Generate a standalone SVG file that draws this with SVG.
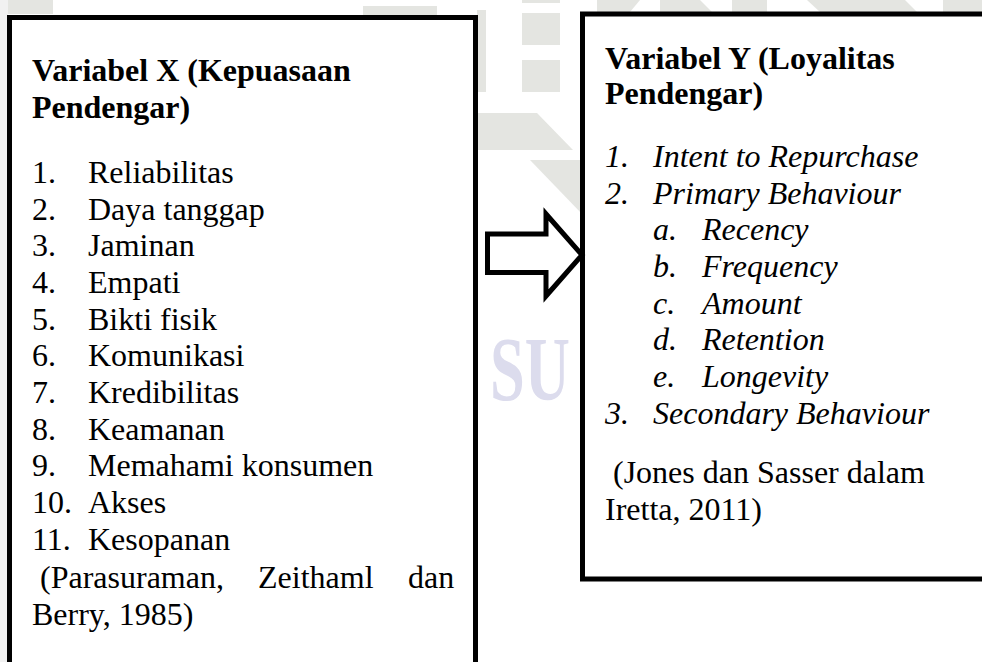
<svg xmlns="http://www.w3.org/2000/svg" width="982" height="662" viewBox="0 0 982 662">
<style>
.box{fill:#ffffff;stroke:#000000;stroke-width:5}
.t{font-family:"Liberation Serif","Times New Roman",serif;font-size:32px;fill:#000000}
.b{font-weight:bold}
.i{font-style:italic}
.wm{fill:#e4e5e1}
</style>
<rect x="0" y="0" width="982" height="662" fill="#ffffff"/>
<g id="watermark">
<rect x="0" y="0" width="8" height="662" fill="#f1f1f1"/>
<rect class="wm" x="8" y="0" width="45" height="14"/>
<rect class="wm" x="363" y="6" width="74" height="10"/>
<rect class="wm" x="477" y="10" width="9" height="82"/>
<rect class="wm" x="522" y="0" width="38" height="3"/>
<rect class="wm" x="522" y="13" width="38" height="32"/>
<rect class="wm" x="522" y="60" width="38" height="32"/>
<polygon class="wm" points="478,113 537,113 573,150 478,150"/>
<polygon class="wm" points="530,160 583,160 583,215"/>
<polygon class="wm" points="597,0 640,0 630,12 597,12"/>
<polygon class="wm" points="660,0 700,0 712,12 660,12"/>
<rect class="wm" x="732" y="0" width="35" height="12"/>
<polygon class="wm" points="807,0 905,0 917,12 820,12"/>
<rect class="wm" x="943" y="0" width="39" height="12"/>
<text transform="translate(490,400) scale(0.68,1)" style="font-family:'Liberation Serif',serif;font-size:92px;font-weight:bold;fill:#dcdced">SU</text>
</g>
<g id="node-x">
<rect class="box" x="9.5" y="17.5" width="466" height="700"/>
<text class="t b" x="32" y="81">Variabel X (Kepuasaan</text>
<text class="t b" x="32" y="118">Pendengar)</text>
<text class="t" x="32" y="183">1.</text><text class="t" x="88" y="183">Reliabilitas</text>
<text class="t" x="32" y="219.7">2.</text><text class="t" x="88" y="219.7">Daya tanggap</text>
<text class="t" x="32" y="256.3">3.</text><text class="t" x="88" y="256.3">Jaminan</text>
<text class="t" x="32" y="293">4.</text><text class="t" x="88" y="293">Empati</text>
<text class="t" x="32" y="329.7">5.</text><text class="t" x="88" y="329.7">Bikti fisik</text>
<text class="t" x="32" y="366.3">6.</text><text class="t" x="88" y="366.3">Komunikasi</text>
<text class="t" x="32" y="403">7.</text><text class="t" x="88" y="403">Kredibilitas</text>
<text class="t" x="32" y="439.7">8.</text><text class="t" x="88" y="439.7">Keamanan</text>
<text class="t" x="32" y="476.3">9.</text><text class="t" x="88" y="476.3">Memahami konsumen</text>
<text class="t" x="32" y="513">10.</text><text class="t" x="88" y="513">Akses</text>
<text class="t" x="32" y="549.7">11.</text><text class="t" x="88" y="549.7">Kesopanan</text>
<text class="t" x="40" y="588">(Parasuraman,</text>
<text class="t" x="258" y="588">Zeithaml</text>
<text class="t" x="408" y="588">dan</text>
<text class="t" x="32" y="625">Berry, 1985)</text>
</g>
<g id="node-y">
<rect class="box" x="582.5" y="14" width="500" height="565"/>
<text class="t b" x="605" y="69">Variabel Y (Loyalitas</text>
<text class="t b" x="605" y="104">Pendengar)</text>
<text class="t i" x="605" y="167">1.</text><text class="t i" x="653" y="167">Intent to Repurchase</text>
<text class="t i" x="605" y="203.7">2.</text><text class="t i" x="653" y="203.7">Primary Behaviour</text>
<text class="t i" x="653" y="240.3">a.</text><text class="t i" x="702" y="240.3">Recency</text>
<text class="t i" x="653" y="277">b.</text><text class="t i" x="702" y="277">Frequency</text>
<text class="t i" x="653" y="313.7">c.</text><text class="t i" x="702" y="313.7">Amount</text>
<text class="t i" x="653" y="350.3">d.</text><text class="t i" x="702" y="350.3">Retention</text>
<text class="t i" x="653" y="387">e.</text><text class="t i" x="702" y="387">Longevity</text>
<text class="t i" x="605" y="423.7">3.</text><text class="t i" x="653" y="423.7">Secondary Behaviour</text>
<text class="t" x="613" y="483">(Jones dan Sasser dalam</text>
<text class="t" x="605" y="520">Iretta, 2011)</text>
</g>
<g id="connectors">
<polygon points="487.5,234 546,234 546,214 582,255 546,296 546,272.5 487.5,272.5" fill="#ffffff" stroke="#000000" stroke-width="5" stroke-linejoin="miter"/>
</g>
</svg>
